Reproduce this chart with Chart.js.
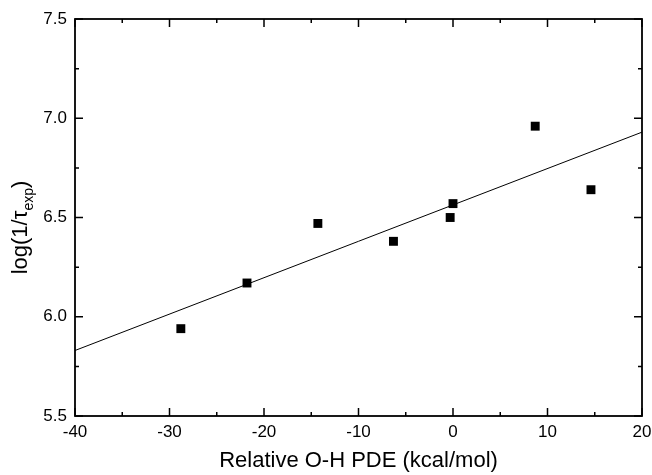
<!DOCTYPE html>
<html>
<head>
<meta charset="utf-8">
<script src="https://cdn.jsdelivr.net/npm/chart.js@4/dist/chart.umd.min.js"></script>
<style>
    html, body { margin: 0; padding: 0; background: #fff; }
</style>
</head>
<body>
<canvas id="pdeChart" width="652" height="475"></canvas>
<script>
// measured points
const pdeValues = [-28.8, -21.8, -14.3, -6.3, -0.3, 0.0, 8.7, 14.6];
const logRates = [5.94, 6.17, 6.47, 6.38, 6.50, 6.57, 6.96, 6.64];
// linear fit line ends
const fitX = [-40, 20];
const fitY = [5.83, 6.93];
// labelled ticks
const xTickLabels = [-40, -30, -20, -10, 0, 10, 20];
const yTickLabels = [5.5, 6.0, 6.5, 7.0, 7.5];

const FONT = "Arial, 'Liberation Sans', sans-serif";

// frame + inward ticks on all four sides
const frameTicks = {
    id: 'frameTicks',
    afterDraw(chart) {
        const {ctx, chartArea: a, scales: {x, y}} = chart;
        ctx.save();
        ctx.strokeStyle = '#000';
        ctx.lineWidth = 1.8;
        ctx.strokeRect(a.left, a.top, a.right - a.left, a.bottom - a.top);
        ctx.lineWidth = 1.5;
        ctx.beginPath();
        x.ticks.forEach(t => {
            const px = x.getPixelForValue(t.value);
            const len = xTickLabels.includes(t.value) ? 8 : 4;
            ctx.moveTo(px, a.bottom); ctx.lineTo(px, a.bottom - len);
            ctx.moveTo(px, a.top); ctx.lineTo(px, a.top + len);
        });
        y.ticks.forEach(t => {
            const py = y.getPixelForValue(t.value);
            const len = yTickLabels.some(v => Math.abs(v - t.value) < 1e-6) ? 8 : 4;
            ctx.moveTo(a.left, py); ctx.lineTo(a.left + len, py);
            ctx.moveTo(a.right, py); ctx.lineTo(a.right - len, py);
        });
        ctx.stroke();

        // y title with subscript
        const main = 'log(1/τ', sub = 'exp', close = ')';
        ctx.fillStyle = '#000';
        ctx.textBaseline = 'alphabetic';
        ctx.font = `22px ${FONT}`;
        const w1 = ctx.measureText(main).width;
        const w3 = ctx.measureText(close).width;
        ctx.font = `14px ${FONT}`;
        const w2 = ctx.measureText(sub).width;
        const total = w1 + w2 + w3;
        ctx.translate(27, (a.top + a.bottom) / 2 + 10);
        ctx.rotate(-Math.PI / 2);
        let cx = -total / 2;
        ctx.font = `22px ${FONT}`;
        ctx.fillText(main, cx, 0);
        cx += w1;
        ctx.font = `14px ${FONT}`;
        ctx.fillText(sub, cx, 6);
        cx += w2;
        ctx.font = `22px ${FONT}`;
        ctx.fillText(close, cx, 0);
        ctx.restore();
    }
};

window.onload = () => {
    const ctx = document.getElementById('pdeChart').getContext('2d');
    new Chart(ctx, {
        type: 'scatter',
        data: {
            datasets: [
                {
                    label: 'fit',
                    data: fitX.map((v, i) => ({x: v, y: fitY[i]})),
                    showLine: true,
                    borderColor: '#000',
                    borderWidth: 1,
                    pointRadius: 0,
                    fill: false
                },
                {
                    label: 'data',
                    data: pdeValues.map((v, i) => ({x: v, y: logRates[i]})),
                    pointStyle: 'rect',
                    pointRadius: 6.3,
                    pointBorderWidth: 0,
                    backgroundColor: '#000',
                    borderColor: '#000'
                }
            ]
        },
        options: {
            responsive: false,
            animation: false,
            layout: {padding: {top: 19, right: 10, left: 0, bottom: 0}},
            plugins: {legend: {display: false}, tooltip: {enabled: false}},
            scales: {
                x: {
                    min: -40, max: 20,
                    grid: {display: false, drawTicks: false},
                    border: {display: false},
                    ticks: {
                        stepSize: 5,
                        padding: 6,
                        color: '#000',
                        font: {family: FONT, size: 17},
                        maxRotation: 0,
                        autoSkip: false,
                        callback: v => xTickLabels.includes(v) ? String(v) : ''
                    },
                    title: {
                        display: true,
                        text: 'Relative O-H PDE (kcal/mol)',
                        color: '#000',
                        font: {family: FONT, size: 22},
                        padding: {top: 0, bottom: 1}
                    },
                    afterFit: s => { s.height = 59; s.paddingRight = 0; s.paddingLeft = 0; }
                },
                y: {
                    min: 5.5, max: 7.5,
                    grid: {display: false, drawTicks: false},
                    border: {display: false},
                    ticks: {
                        stepSize: 0.25,
                        padding: 8,
                        color: '#000',
                        font: {family: FONT, size: 17},
                        autoSkip: false,
                        callback: v => yTickLabels.some(t => Math.abs(t - v) < 1e-6) ? v.toFixed(1) : ''
                    },
                    afterFit: s => { s.width = 75; }
                }
            }
        },
        plugins: [frameTicks]
    });
};
</script>
</body>
</html>
